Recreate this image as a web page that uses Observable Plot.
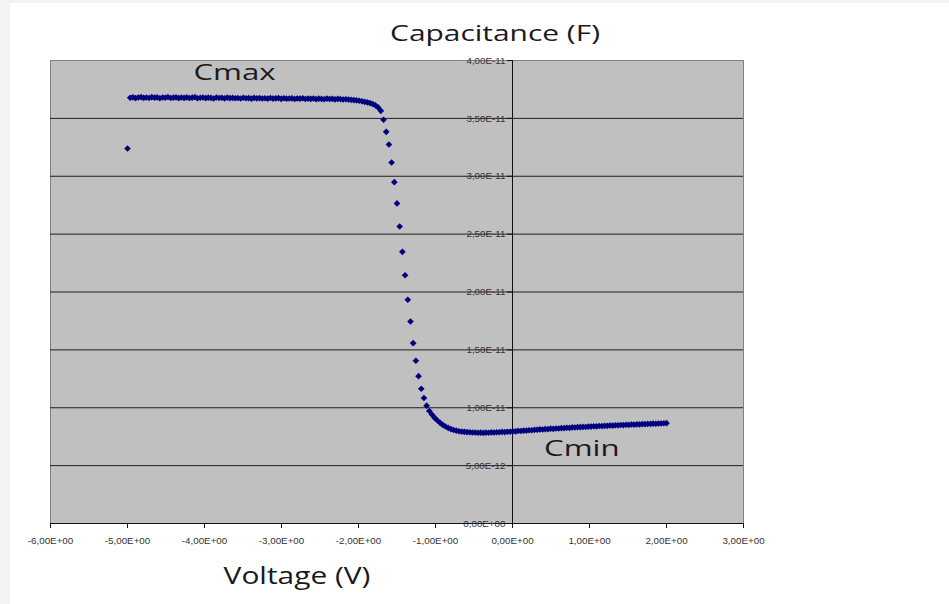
<!DOCTYPE html>
<html>
<head>
<meta charset="utf-8">
<script src="https://cdn.jsdelivr.net/npm/d3@7"></script>
<script src="https://cdn.jsdelivr.net/npm/@observablehq/plot@0.6"></script>
<style>
  html, body { margin: 0; padding: 0; }
  body { width: 949px; height: 604px; background: #f3f3f3; position: relative; overflow: hidden; }
  #sheet { position: absolute; left: 10px; top: 3px; width: 939px; height: 601px; background: #ffffff; }
  #chart { position: absolute; left: 0; top: 0; }
  .lbl { position: absolute; font-family: "Open Sans", sans-serif; color: #1a1a1a; white-space: nowrap; line-height: 1; }
  #title { left: 495px; top: 21px; transform: translateX(-50%) scaleX(1.36); font-size: 22px; }
  #xlabel { left: 297px; top: 564px; transform: translateX(-50%) scaleX(1.3); font-size: 23px; }
</style>
</head>
<body>
<div id="sheet"></div>
<div id="chart"></div>
<div class="lbl" id="title">Capacitance (F)</div>
<div class="lbl" id="xlabel">Voltage (V)</div>
<script>
// Voltage sweep (V)
const voltage = [
  -5, -4.965, -4.93, -4.895, -4.86, -4.825, -4.79, -4.755, -4.72, -4.685,
  -4.65, -4.615, -4.58, -4.545, -4.51, -4.475, -4.44, -4.405, -4.37, -4.335,
  -4.3, -4.265, -4.23, -4.195, -4.16, -4.125, -4.09, -4.055, -4.02, -3.985,
  -3.95, -3.915, -3.88, -3.845, -3.81, -3.775, -3.74, -3.705, -3.67, -3.635,
  -3.6, -3.565, -3.53, -3.495, -3.46, -3.425, -3.39, -3.355, -3.32, -3.285,
  -3.25, -3.215, -3.18, -3.145, -3.11, -3.075, -3.04, -3.005, -2.97, -2.935,
  -2.9, -2.865, -2.83, -2.795, -2.76, -2.725, -2.69, -2.655, -2.62, -2.585,
  -2.55, -2.515, -2.48, -2.445, -2.41, -2.375, -2.34, -2.305, -2.27, -2.235,
  -2.2, -2.165, -2.13, -2.095, -2.06, -2.025, -1.99, -1.955, -1.92, -1.885,
  -1.85, -1.815, -1.78, -1.745, -1.71, -1.675, -1.64, -1.605, -1.57, -1.535,
  -1.5, -1.465, -1.43, -1.395, -1.36, -1.325, -1.29, -1.255, -1.22, -1.185,
  -1.15, -1.115, -1.08, -1.045, -1.01, -0.975, -0.94, -0.905, -0.87, -0.835,
  -0.8, -0.765, -0.73, -0.695, -0.66, -0.625, -0.59, -0.555, -0.52, -0.485,
  -0.45, -0.415, -0.38, -0.345, -0.31, -0.275, -0.24, -0.205, -0.17, -0.135,
  -0.1, -0.065, -0.03, 0.005, 0.04, 0.075, 0.11, 0.145, 0.18, 0.215,
  0.25, 0.285, 0.32, 0.355, 0.39, 0.425, 0.46, 0.495, 0.53, 0.565,
  0.6, 0.635, 0.67, 0.705, 0.74, 0.775, 0.81, 0.845, 0.88, 0.915,
  0.95, 0.985, 1.02, 1.055, 1.09, 1.125, 1.16, 1.195, 1.23, 1.265,
  1.3, 1.335, 1.37, 1.405, 1.44, 1.475, 1.51, 1.545, 1.58, 1.615,
  1.65, 1.685, 1.72, 1.755, 1.79, 1.825, 1.86, 1.895, 1.93, 1.965,
  2
];
// Capacitance (pF)
const capacitancePF = [
  32.4,
  36.78, 36.82, 36.75, 36.8, 36.84, 36.77, 36.8, 36.76, 36.83, 36.79,
  36.81, 36.74, 36.8, 36.78, 36.85, 36.76, 36.79, 36.82, 36.75, 36.8,
  36.77, 36.81, 36.76, 36.79, 36.83, 36.74, 36.78, 36.8, 36.75, 36.79,
  36.77, 36.72, 36.8, 36.76, 36.78, 36.73, 36.79, 36.75, 36.77, 36.74,
  36.76, 36.72, 36.78, 36.74, 36.75, 36.71, 36.77, 36.73, 36.75, 36.72,
  36.74, 36.7, 36.76, 36.71, 36.73, 36.75, 36.69, 36.74, 36.7, 36.72,
  36.73, 36.68, 36.72, 36.7, 36.74, 36.67, 36.71, 36.69, 36.72, 36.66,
  36.7, 36.68, 36.65, 36.71, 36.67, 36.69, 36.64, 36.68, 36.66, 36.63,
  36.65, 36.62, 36.6, 36.58, 36.55, 36.52, 36.48, 36.43, 36.38, 36.32,
  36.24, 36.12, 35.95, 35.65,
  34.88, 33.84, 32.74, 31.19, 29.49, 27.65, 25.66, 23.47, 21.45, 19.33,
  17.45, 15.58, 14.06, 12.73, 11.64, 10.84, 10.18,
  9.72, 9.4, 9.12, 8.9, 8.7, 8.52, 8.38, 8.26, 8.16, 8.08,
  8.02, 7.97, 7.94, 7.92, 7.89, 7.88, 7.86, 7.86, 7.84, 7.85,
  7.83, 7.85, 7.84, 7.87, 7.86, 7.88, 7.88, 7.91, 7.9, 7.93, 7.93,
  7.96, 7.96, 8.0, 7.99, 8.03, 8.03, 8.06, 8.06,
  8.09, 8.1, 8.13, 8.12, 8.16, 8.15, 8.19, 8.18, 8.21, 8.21,
  8.24, 8.24, 8.27, 8.26, 8.3, 8.29, 8.32, 8.32, 8.35, 8.34,
  8.37, 8.37, 8.4, 8.39, 8.42, 8.41, 8.44, 8.44, 8.47, 8.46,
  8.49, 8.48, 8.51, 8.5, 8.53, 8.52, 8.55, 8.54, 8.57, 8.56,
  8.59, 8.58, 8.61, 8.6, 8.63, 8.62, 8.64, 8.64, 8.66, 8.67
];

const xTickValues = [-6, -5, -4, -3, -2, -1, 0, 1, 2, 3];
const xTickLabels = ["-6,00E+00", "-5,00E+00", "-4,00E+00", "-3,00E+00", "-2,00E+00",
                     "-1,00E+00", "0,00E+00", "1,00E+00", "2,00E+00", "3,00E+00"];
const yTickValues = [0, 5e-12, 1e-11, 1.5e-11, 2e-11, 2.5e-11, 3e-11, 3.5e-11, 4e-11];
const yTickLabels = ["0,00E+00", "5,00E-12", "1,00E-11", "1,50E-11", "2,00E-11",
                     "2,50E-11", "3,00E-11", "3,50E-11", "4,00E-11"];
const gridValues = [5e-12, 1e-11, 1.5e-11, 2e-11, 2.5e-11, 3e-11, 3.5e-11];

const annotationText = ["Cmax", "Cmin"];
const annotationV = [-3.61, 0.9];
const annotationC = [3.895e-11, 6.4e-12];

const data = voltage.map((v, i) => ({v, c: capacitancePF[i] * 1e-12}));
const notes = annotationText.map((t, i) => ({t, v: annotationV[i], c: annotationC[i]}));

const tickFont = "'Liberation Sans', Arial, sans-serif";

const chart = Plot.plot({
  width: 949,
  height: 604,
  marginLeft: 50,
  marginRight: 206,
  marginTop: 60,
  marginBottom: 81,
  style: {background: "transparent", overflow: "visible"},
  x: {domain: [-6, 3]},
  y: {domain: [0, 4e-11]},
  marks: [
    Plot.frame({fill: "#c0c0c0", stroke: "#808080"}),
    Plot.ruleY(gridValues, {stroke: "#1e1e1e", strokeWidth: 1}),
    Plot.ruleX([0], {stroke: "#111", strokeWidth: 1}),
    Plot.ruleY([0], {stroke: "#111", strokeWidth: 1}),
    Plot.axisX(xTickValues, {
      tickFormat: d => xTickLabels[xTickValues.indexOf(d)],
      tickSize: 5, tickPadding: 9, stroke: "#111", fill: "#333",
      fontSize: 9.8, fontFamily: tickFont, label: null
    }),
    Plot.axisY(yTickValues, {
      x: 0, anchor: "left",
      tickFormat: d => yTickLabels[yTickValues.indexOf(d)],
      tickSize: 5, tickPadding: 2, stroke: "#111", fill: "#333",
      fontSize: 9.8, fontFamily: tickFont, label: null
    }),
    Plot.dot(data, {x: "v", y: "c", symbol: "diamond2", r: 3, fill: "#00007f", stroke: "none"}),
    Plot.text(notes, {x: "v", y: "c", text: "t", fontSize: 22, fontFamily: "'Open Sans', sans-serif", fill: "#1a1a1a", className: "note"})
  ]
});
// stretch annotation text horizontally like the reference
d3.select(chart).selectAll(".note text").each(function () {
  const t = this.getAttribute("transform");
  if (t) this.setAttribute("transform", t + " scale(1.42,1)");
});
document.getElementById("chart").appendChild(chart);
</script>
</body>
</html>
